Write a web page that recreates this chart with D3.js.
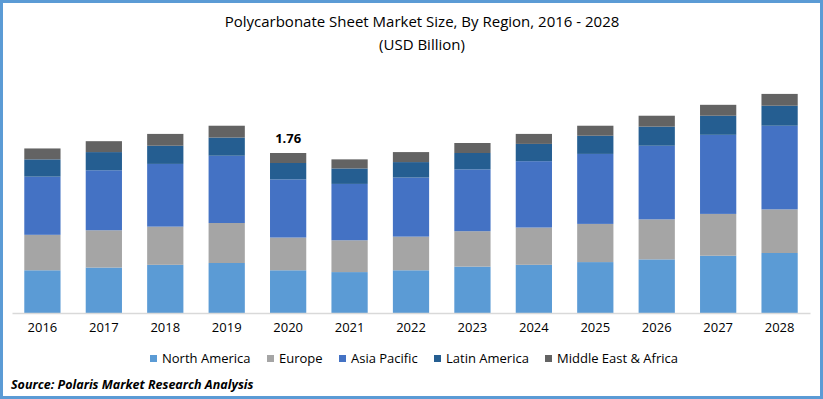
<!DOCTYPE html>
<html>
<head>
<meta charset="utf-8">
<script src="https://cdn.jsdelivr.net/npm/d3@7"></script>
<style>
  body { margin: 0; background: #fff; }
  text { font-family: "Open Sans", "DejaVu Sans", sans-serif; fill: #000; }
</style>
</head>
<body>
<svg id="chart" width="823" height="399"></svg>
<script>
"use strict";

// values (USD Billion)
var years = ["2016", "2017", "2018", "2019", "2020", "2021", "2022", "2023", "2024", "2025", "2026", "2027", "2028"];
var regions = ["North America", "Europe", "Asia Pacific", "Latin America", "Middle East & Africa"];
var colors = ["#5b9bd5", "#a5a5a5", "#4472c4", "#255e91", "#636363"];

var northAmerica = [0.47, 0.50, 0.53, 0.55, 0.47, 0.45, 0.47, 0.51, 0.53, 0.56, 0.59, 0.63, 0.66];
var europe       = [0.39, 0.41, 0.42, 0.44, 0.36, 0.35, 0.37, 0.39, 0.41, 0.42, 0.44, 0.46, 0.48];
var asiaPacific  = [0.64, 0.66, 0.69, 0.74, 0.64, 0.62, 0.65, 0.68, 0.73, 0.77, 0.81, 0.87, 0.92];
var latinAmerica = [0.19, 0.20, 0.20, 0.20, 0.18, 0.17, 0.17, 0.18, 0.19, 0.20, 0.21, 0.21, 0.22];
var middleEast   = [0.12, 0.12, 0.13, 0.13, 0.11, 0.10, 0.11, 0.11, 0.11, 0.11, 0.12, 0.12, 0.13];

var labelYear = "2020";
var labelText = "1.76";

var svg = d3.select("#chart");
var W = 823, H = 399;

// frame
svg.append("rect")
  .attr("x", 1.5).attr("y", 1.5)
  .attr("width", W - 3).attr("height", H - 3)
  .attr("fill", "#fff")
  .attr("stroke", "#5b9bd5")
  .attr("stroke-width", 3);

// titles
svg.append("text")
  .attr("x", 422).attr("y", 27)
  .attr("text-anchor", "middle")
  .style("font-size", "15px")
  .text("Polycarbonate Sheet Market Size, By Region, 2016 - 2028");
svg.append("text")
  .attr("x", 422).attr("y", 50)
  .attr("text-anchor", "middle")
  .style("font-size", "15px")
  .text("(USD Billion)");

var rows = years.map(function (y, i) {
  return {
    year: y,
    "North America": northAmerica[i],
    "Europe": europe[i],
    "Asia Pacific": asiaPacific[i],
    "Latin America": latinAmerica[i],
    "Middle East & Africa": middleEast[i]
  };
});

var stacked = d3.stack().keys(regions)(rows);

var x = d3.scaleBand()
  .domain(years)
  .range([12, 810])
  .paddingInner(0.41)
  .paddingOuter(0.2);

var y = d3.scaleLinear()
  .domain([0, 2.42])
  .range([313, 93]);

var color = d3.scaleOrdinal().domain(regions).range(colors);

var g = svg.append("g");

g.selectAll(".layer")
  .data(stacked)
  .enter()
  .append("g")
    .attr("class", "layer")
    .attr("fill", function (d) { return color(d.key); })
  .selectAll("rect")
  .data(function (d) { return d; })
  .enter()
  .append("rect")
    .attr("x", function (d) { return x(d.data.year); })
    .attr("y", function (d) { return y(d[1]); })
    .attr("width", x.bandwidth())
    .attr("height", function (d) { return y(d[0]) - y(d[1]); });

// x axis
var xAxis = d3.axisBottom(x).tickSize(0).tickPadding(10);
var ax = svg.append("g")
  .attr("transform", "translate(0," + y(0) + ")")
  .call(xAxis);
ax.select(".domain").attr("stroke", "#d9d9d9").attr("stroke-width", 1.5);
ax.selectAll("text")
  .style("font-size", "13px")
  .attr("fill", "#000");

// value label on 2020
var last = stacked[stacked.length - 1];
var idx = years.indexOf(labelYear);
svg.append("text")
  .attr("x", x(labelYear) + x.bandwidth() / 2)
  .attr("y", y(last[idx][1]) - 10)
  .attr("text-anchor", "middle")
  .style("font-size", "13px")
  .style("font-weight", "bold")
  .text(labelText);

// legend
var legendX = [150, 267, 339, 434, 545];
var legend = svg.append("g")
  .selectAll("g")
  .data(regions)
  .enter()
  .append("g")
    .attr("transform", function (d, i) { return "translate(" + legendX[i] + ",355)"; });
legend.append("rect")
  .attr("width", 7).attr("height", 7)
  .attr("fill", function (d) { return color(d); });
legend.append("text")
  .attr("x", 12).attr("y", 8)
  .style("font-size", "13px")
  .text(function (d) { return d; });

// source
svg.append("text")
  .attr("x", 11).attr("y", 389)
  .style("font-size", "12.5px")
  .style("font-weight", "bold")
  .style("font-style", "italic")
  .text("Source: Polaris Market Research Analysis");
</script>
</body>
</html>
